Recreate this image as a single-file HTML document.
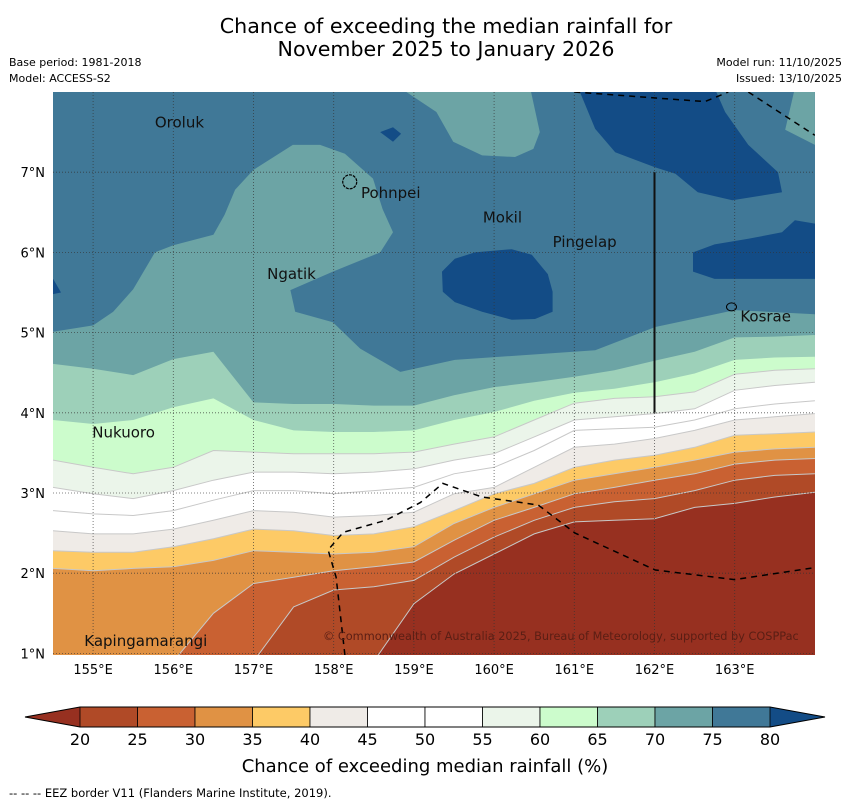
<!DOCTYPE html>
<html><head><meta charset="utf-8"><style>
html,body{margin:0;padding:0;background:#fff;}
svg{display:block;font-family:"DejaVu Sans","Liberation Sans",sans-serif;}
</style></head><body>
<svg id="chart" width="850" height="804" viewBox="0 0 850 804" xmlns="http://www.w3.org/2000/svg">
<defs><clipPath id="mapclip"><rect x="53" y="92" width="762" height="563"/></clipPath></defs>
<text x="446" y="33" font-size="20.6" text-anchor="middle">Chance of exceeding the median rainfall for</text>
<text x="446" y="56" font-size="20.6" text-anchor="middle">November 2025 to January 2026</text>
<text x="9" y="66" font-size="11">Base period: 1981-2018</text>
<text x="9" y="82" font-size="11">Model: ACCESS-S2</text>
<text x="842" y="66" font-size="11" text-anchor="end">Model run: 11/10/2025</text>
<text x="842" y="82" font-size="11" text-anchor="end">Issued: 13/10/2025</text>
<g id="map" clip-path="url(#mapclip)"></g>
<g id="overlay"></g>
<g id="cbar"></g>
<text x="425" y="772" font-size="18" text-anchor="middle">Chance of exceeding median rainfall (%)</text>
<text x="9" y="797" font-size="11.5">--  --  -- EEZ border V11 (Flanders Marine Institute, 2019).</text>
</svg>
<script>
// ---- data ----
const lons = [154.5,155,155.5,156,156.5,157,157.5,158,158.5,159,159.5,160,160.5,161,161.5,162,162.5,163,163.5,164];
const L70 = [4.61,4.55,4.47,4.67,4.76,4.13,4.11,4.11,4.09,4.09,4.22,4.32,4.38,4.45,4.53,4.65,4.76,4.94,4.95,4.97];
const L65 = [3.91,3.86,3.91,4.07,4.18,3.91,3.78,3.76,3.76,3.78,3.91,4.01,4.15,4.25,4.30,4.38,4.49,4.66,4.69,4.70];
const L60 = [3.41,3.32,3.24,3.32,3.53,3.51,3.49,3.49,3.49,3.51,3.61,3.70,3.91,4.12,4.18,4.20,4.26,4.48,4.53,4.55];
const L55 = [3.07,2.99,2.93,3.03,3.16,3.26,3.26,3.24,3.26,3.30,3.41,3.49,3.70,3.91,3.95,3.99,4.05,4.28,4.34,4.38];
const L50 = [2.78,2.74,2.72,2.78,2.91,3.03,3.03,2.99,3.03,3.07,3.24,3.32,3.53,3.78,3.80,3.82,3.91,4.05,4.11,4.15];
const L45 = [2.53,2.49,2.49,2.55,2.66,2.78,2.76,2.70,2.72,2.76,2.99,3.07,3.32,3.57,3.61,3.68,3.78,3.91,3.95,3.99];
const L40 = [2.28,2.26,2.26,2.33,2.43,2.55,2.53,2.47,2.49,2.58,2.78,2.99,3.12,3.32,3.41,3.47,3.57,3.72,3.74,3.76];
const L35 = [2.06,2.03,2.06,2.08,2.16,2.28,2.26,2.24,2.26,2.33,2.62,2.82,2.99,3.16,3.24,3.32,3.41,3.51,3.55,3.57];
const L30 = [0.9,0.9,0.9,0.9,1.5,1.87,1.95,2.03,2.08,2.14,2.41,2.66,2.82,2.99,3.07,3.16,3.24,3.36,3.41,3.43];
const L25 = [0.9,0.9,0.9,0.9,0.9,0.9,1.58,1.79,1.83,1.91,2.20,2.45,2.66,2.82,2.89,2.93,3.03,3.16,3.22,3.24];
const L20 = [0.9,0.9,0.9,0.9,0.9,0.9,0.9,0.9,0.9,1.62,1.99,2.24,2.49,2.64,2.66,2.68,2.82,2.87,2.95,3.01];
const tealMainLon = [154.5,155.0,155.25,155.5,155.77,156.0,156.5,156.64,156.77,157.0,157.49,157.83,158.14,158.49,158.61,158.74,158.58,157.99,157.46,157.52,157.99,158.33,158.83,159.51,161.26,162.01,163.0,164.0,164.0,154.5];
const tealMainLat = [5.01,5.09,5.26,5.54,6.00,6.09,6.22,6.47,6.78,7.03,7.34,7.34,7.23,6.92,6.54,6.25,6.00,5.76,5.53,5.26,5.13,4.80,4.51,4.66,4.78,5.07,5.28,5.23,0.5,0.5];
const tealTopLon = [158.83,159.28,159.49,159.85,160.26,160.49,160.57,160.45];
const tealTopLat = [8.05,7.75,7.38,7.21,7.19,7.29,7.50,8.05];
const tealNELon = [163.75,163.63,164.0,164.0];
const tealNELat = [8.05,7.53,7.34,8.05];
const darkALon = [161.05,161.26,161.51,162.01,162.26,162.54,162.97,163.59,163.54,163.17,162.88,162.75];
const darkALat = [8.05,7.54,7.25,7.06,6.98,6.75,6.65,6.75,7.00,7.34,7.75,8.05];
const darkBLon = [159.35,159.51,159.76,160.22,160.47,160.67,160.73,160.73,160.51,160.22,159.85,159.51,159.36];
const darkBLat = [5.76,5.92,6.00,6.04,5.97,5.73,5.51,5.26,5.17,5.16,5.26,5.38,5.51];
const darkCLon = [162.48,162.75,163.17,163.59,163.75,164.05,164.05,163.59,162.75,162.48];
const darkCLat = [6.00,6.10,6.17,6.25,6.40,6.35,5.67,5.67,5.67,5.76];
const darkDLon = [158.58,158.74,158.84,158.74];
const darkDLat = [7.50,7.56,7.48,7.38];
const darkELon = [154.45,154.6,154.45];
const darkELat = [5.76,5.5,5.47];
const eezSouthLon = [158.14,158.03,157.93,158.12,158.65,159.08,159.36,159.85,160.55,161.01,162.01,163.0,164.0];
const eezSouthLat = [0.98,1.95,2.29,2.51,2.66,2.88,3.12,2.95,2.85,2.50,2.04,1.92,2.07];
const eezTopLon = [161.0,162.63,162.92];
const eezTopLat = [8.0,7.88,8.0];
const eezNELon = [163.17,164.0];
const eezNELat = [8.0,7.46];
const lonTicks = [155,156,157,158,159,160,161,162,163];
const latTicks = [1,2,3,4,5,6,7];
const cbarTicks = [20,25,30,35,40,45,50,55,60,65,70,75,80];
const cbarColors = ["#b04a27","#c96132","#e09244","#fdca66","#efebe7","#ffffff","#ffffff","#ebf5ea","#ccfccc","#9dd0b9","#6ca4a5","#407897"];
const places = ["Oroluk","Pohnpei","Mokil","Pingelap","Ngatik","Kosrae","Nukuoro","Kapingamarangi"];
const placeLon = [155.77,158.34,159.86,160.73,157.17,163.07,154.99,154.89];
const placeLat = [7.56,6.68,6.37,6.07,5.67,5.14,3.69,1.09];

// ---- axes ----
const X = lon => 53 + (lon - 154.5) * 80.2;
const Y = lat => 92 + (8 - lat) * 80.2;
const NS = "http://www.w3.org/2000/svg";
const map = document.getElementById('map');
const ov = document.getElementById('overlay');
const cb = document.getElementById('cbar');
function mk(tag, parent, attrs){const e=document.createElementNS(NS,tag);for(const k in attrs)e.setAttribute(k,attrs[k]);parent.appendChild(e);return e;}
function pts(lo,la){return lo.map((v,i)=>X(v).toFixed(1)+','+Y(la[i]).toFixed(1)).join(' ');}

let bg = mk('rect', map, {x:53,y:92,width:762,height:563,fill:'#407897'});



function poly(lo, la, fill, name){
  const p = mk('polygon', map, {points:pts(lo,la), fill:fill});
  
  
}
poly(tealMainLon, tealMainLat, '#6ca4a5', 'band-70-75-main');
poly(tealTopLon, tealTopLat, '#6ca4a5', 'band-70-75-north');
poly(tealNELon, tealNELat, '#6ca4a5', 'band-70-75-northeast');
poly(darkALon, darkALat, '#134c86', 'band-above-80-north');
poly(darkBLon, darkBLat, '#134c86', 'band-above-80-central');
poly(darkCLon, darkCLat, '#134c86', 'band-above-80-east');
poly(darkDLon, darkDLat, '#134c86', 'band-above-80-small');
poly(darkELon, darkELat, '#134c86', 'band-above-80-west');

const levels = [L70,L65,L60,L55,L50,L45,L40,L35,L30,L25,L20];
const levelFill = ['#9dd0b9','#ccfccc','#ebf5ea','#ffffff','#ffffff','#efebe7','#fdca66','#e09244','#c96132','#b04a27','#973020'];
const levelName = ['band-65-70','band-60-65','band-55-60','band-50-55','band-45-50','band-40-45','band-35-40','band-30-35','band-25-30','band-20-25','band-below-20'];
levels.forEach((L, k) => {
  const lo = lons.slice(), la = L.slice();
  lo.push(164.1, 154.4); la.push(0.5, 0.5);
  const p = mk('polygon', map, {points:pts(lo,la), fill:levelFill[k]});
  
  
  if (k >= 2) {
    const l = mk('polyline', map, {points:pts(lons,L), fill:'none', stroke:'#c8c8c8', 'stroke-width':1});
    
    
  }
});

// grid
lonTicks.forEach(v => {
  const l = mk('line', map, {x1:X(v),x2:X(v),y1:92,y2:655,stroke:'#333','stroke-width':0.8,'stroke-dasharray':'1,2',opacity:0.8});
  
  
  const t = mk('text', ov, {x:X(v),y:674,'font-size':13,'text-anchor':'middle'});
  t.textContent = v + '°E';
  
  
});
latTicks.forEach(v => {
  const l = mk('line', map, {x1:53,x2:815,y1:Y(v),y2:Y(v),stroke:'#333','stroke-width':0.8,'stroke-dasharray':'1,2',opacity:0.8});
  
  
  const t = mk('text', ov, {x:45,y:Y(v)+5,'font-size':13,'text-anchor':'end'});
  t.textContent = v + '°N';
  
  
});

// EEZ borders
[[eezSouthLon,eezSouthLat,'eez-border-south'],[eezTopLon,eezTopLat,'eez-border-north'],[eezNELon,eezNELat,'eez-border-northeast']].forEach(e => {
  const l = mk('polyline', map, {points:pts(e[0],e[1]),fill:'none',stroke:'#000','stroke-width':1.5,'stroke-dasharray':'6,5'});
  
  
});
const vl = mk('line', map, {x1:X(162),x2:X(162),y1:Y(7),y2:Y(4),stroke:'#111','stroke-width':2});



// islands
const pohn = mk('circle', map, {cx:X(158.2),cy:Y(6.88),r:7,fill:'none',stroke:'#000','stroke-width':1.2,'stroke-dasharray':'3,1'});


const kos = mk('ellipse', map, {cx:X(162.96),cy:Y(5.32),rx:5,ry:4,fill:'none',stroke:'#000','stroke-width':1});



// labels
places.forEach((n, i) => {
  const t = mk('text', map, {x:X(placeLon[i]),y:Y(placeLat[i]),'font-size':15,fill:'#111'});
  t.textContent = n;
  
  
});
const cp = mk('text', map, {x:323,y:640,'font-size':11.3,fill:'#5a1e14'});
cp.textContent = '© Commonwealth of Australia 2025, Bureau of Meteorology, supported by COSPPac';



// colorbar
const CX = v => 80 + (v - 20) * 11.5;
const lt = mk('polygon', cb, {points:`25,717 ${CX(20)},707 ${CX(20)},727`, fill:'#973020'});


const rt = mk('polygon', cb, {points:`825,717 ${CX(80)},707 ${CX(80)},727`, fill:'#134c86'});


cbarColors.forEach((c, i) => {
  const r = mk('rect', cb, {x:CX(cbarTicks[i]),y:707,width:CX(cbarTicks[i+1])-CX(cbarTicks[i]),height:20,fill:c,stroke:'#000','stroke-width':0.8});
  
  
});
const outline = mk('polygon', cb, {points:`25,717 ${CX(20)},707 ${CX(80)},707 825,717 ${CX(80)},727 ${CX(20)},727`, fill:'none', stroke:'#000','stroke-width':1});


cbarTicks.forEach(v => {
  const t = mk('text', cb, {x:CX(v),y:745,'font-size':16,'text-anchor':'middle'});
  t.textContent = v;
  
  
});
</script>
</body></html>
